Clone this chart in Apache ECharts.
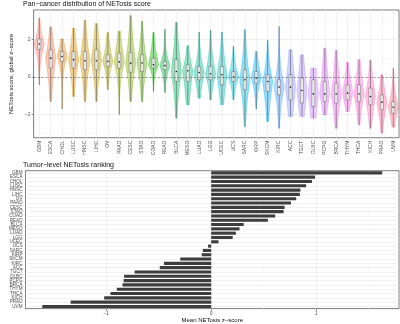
<!DOCTYPE html>
<html>
<head>
<meta charset="utf-8">
<script src="https://cdn.jsdelivr.net/npm/echarts@6/dist/echarts.min.js"></script>
<style>
  html, body { margin: 0; padding: 0; background: #fff; }
  #chart { width: 400px; height: 324px; }
</style>
</head>
<body>
<div id="chart"></div>
<script>
// cancer types, same order in both panels
const categories = ['GBM', 'ESCA', 'CHOL', 'LUSC', 'HNSC', 'LIHC', 'OV', 'PAAD', 'CESC', 'STAD',
  'COAD', 'READ', 'BLCA', 'MESO', 'LUAD', 'LGG', 'UCEC', 'UCS', 'SARC', 'KIRP', 'SKCM', 'KIRC',
  'ACC', 'TGCT', 'DLBC', 'PCPG', 'BRCA', 'THYM', 'THCA', 'KICH', 'PRAD', 'UVM']

// violin / box summaries (global z-score)
const scoreMin = [-0.42, -1.31, -1.71, -1.04, -1.31, -1.31, -0.68, -2.0, -1.31, -1.31,
  -0.77, -0.83, -2.19, -1.48, -1.13, -1.22, -1.48, -1.22, -2.64, -1.71, -2.37, -2.73,
  -2.1, -2.1, -2.19, -2.02, -2.73, -1.84, -2.55, -2.73, -2.99, -2.67]
const scoreQ1 = [1.47, 0.47, 0.83, 0.47, 0.38, 0.38, 0.56, 0.47, 0.25, 0.29,
  0.47, 0.38, -0.24, -0.24, -0.15, -0.15, -0.42, -0.24, -0.68, -0.33, -0.77, -0.95,
  -1.22, -1.39, -1.57, -1.31, -1.39, -1.22, -1.31, -1.48, -1.75, -1.93]
const scoreMedian = [1.75, 1.0, 1.09, 0.92, 0.86, 0.86, 0.83, 0.8, 0.72, 0.74,
  0.65, 0.6, 0.29, 0.33, 0.24, 0.17, 0.12, 0.0, -0.15, -0.06, -0.24, -0.54,
  -0.54, -0.72, -0.9, -0.9, -0.91, -0.86, -0.91, -1.04, -1.34, -1.61]
const scoreQ3 = [2.02, 1.45, 1.36, 1.36, 1.36, 1.45, 1.18, 1.27, 1.3, 1.18,
  1.0, 0.83, 0.92, 0.65, 0.56, 0.56, 0.56, 0.29, 0.38, 0.29, 0.12, -0.15,
  0.12, -0.06, -0.15, -0.24, -0.33, -0.42, -0.42, -0.59, -0.95, -1.31]
const scoreMax = [3.14, 2.66, 2.02, 2.6, 3.01, 2.84, 2.37, 2.43, 3.26, 2.96,
  2.37, 2.55, 2.9, 1.66, 2.39, 2.48, 2.39, 1.63, 2.52, 1.36, 1.95, 2.69,
  1.45, 1.18, 0.47, 1.54, 1.41, 0.77, 0.92, 0.88, 0.12, 0.47]

// mean score per tumor (bottom panel)
const meanScore = [1.63, 0.99, 0.96, 0.905, 0.85, 0.845, 0.81, 0.76, 0.70, 0.69,
  0.61, 0.54, 0.31, 0.27, 0.235, 0.205, 0.07, -0.03, -0.08, -0.09, -0.295, -0.45,
  -0.49, -0.73, -0.83, -0.835, -0.845, -0.90, -0.96, -1.02, -1.34, -1.61]

const violinTicks = [-2, 0, 2]
const violinGrid = [-3, -2, -1, 0, 1, 2, 3]
const rankTicks = [-1, 0, 1]
const rankGrid = [-1.5, -1, -0.5, 0, 0.5, 1, 1.5]

const FONT = 'Liberation Sans'

// ggplot-like hue palette (hcl, c = 100, l = 65)
function hcl (h, c, l) {
  const Xn = 95.047, Yn = 100, Zn = 108.883
  const hr = h * Math.PI / 180
  const U = c * Math.cos(hr), V = c * Math.sin(hr)
  const Y = l > 8 ? Yn * Math.pow((l + 16) / 116, 3) : Yn * l / 903.3
  const d = Xn + 15 * Yn + 3 * Zn
  const u = U / (13 * l) + 4 * Xn / d
  const v = V / (13 * l) + 9 * Yn / d
  const X = 9 * Y * u / (4 * v)
  const Z = -X / 3 - 5 * Y + 3 * Y / v
  const lin = [
    (3.240479 * X - 1.537150 * Y - 0.498535 * Z) / 100,
    (-0.969256 * X + 1.875992 * Y + 0.041556 * Z) / 100,
    (0.055648 * X - 0.204043 * Y + 1.057311 * Z) / 100
  ]
  return lin.map(x => {
    const g = x <= 0.0031308 ? 12.92 * x : 1.055 * Math.pow(x, 1 / 2.4) - 0.055
    return Math.round(Math.min(1, Math.max(0, g)) * 255)
  })
}
const palette = categories.map((c, i) => hcl(15 + i * 360 / categories.length, 100, 65))

const minus = v => String(v).replace('-', '\u2212')

function renderViolin (params, api) {
  const idx = api.value(0)
  const lo = api.value(1)
  const q1 = api.value(2)
  const med = api.value(3)
  const q3 = api.value(4)
  const hi = api.value(5)
  const band = api.size([1, 0])[0]
  const half = band * 0.44
  const sLo = Math.max((med - q1) / 0.6745, 0.15)
  const sHi = Math.max((q3 - med) / 0.6745, 0.15)
  const left = []
  const right = []
  const steps = 48
  for (let k = 0; k <= steps; k++) {
    const v = lo + (hi - lo) * k / steps
    const z = (v - med) / (v < med ? sLo : sHi)
    const w = Math.exp(-0.5 * Math.pow(Math.abs(z), 1.2))
    const p = api.coord([idx, v])
    left.push([p[0] - w * half, p[1]])
    right.unshift([p[0] + w * half, p[1]])
  }
  const rgb = palette[idx]
  const pLo = api.coord([idx, lo])
  const pHi = api.coord([idx, hi])
  const pQ1 = api.coord([idx, q1])
  const pQ3 = api.coord([idx, q3])
  const pMed = api.coord([idx, med])
  const bw = band * 0.14
  return {
    type: 'group',
    children: [
      {
        type: 'polygon',
        shape: { points: left.concat(right) },
        style: {
          fill: 'rgba(' + rgb.join(',') + ',0.4)',
          stroke: 'rgba(' + rgb.join(',') + ',0.7)',
          lineWidth: 0.5
        }
      },
      {
        type: 'line',
        shape: { x1: pLo[0], y1: pLo[1], x2: pHi[0], y2: pHi[1] },
        style: { stroke: '#444', lineWidth: 0.5 }
      },
      {
        type: 'rect',
        shape: { x: pQ3[0] - bw, y: pQ3[1], width: bw * 2, height: pQ1[1] - pQ3[1] },
        style: { fill: 'rgba(242,242,242,0.85)', stroke: '#444', lineWidth: 0.4 }
      },
      {
        type: 'circle',
        shape: { cx: pMed[0], cy: pMed[1], r: 0.8 },
        style: { fill: '#111' }
      }
    ]
  }
}

const chart = echarts.init(document.getElementById('chart'))

const tickStyle = { color: '#333', width: 0.6 }
const gridLine = { color: '#ebebeb', width: 0.7 }

chart.setOption({
  animation: false,
  textStyle: { fontFamily: FONT },
  title: [
    {
      text: 'Pan\u2212cancer distribution of NETosis score',
      left: 23,
      top: 1,
      padding: 0,
      textStyle: { fontSize: 7, fontWeight: 'normal', color: '#111', fontFamily: FONT }
    },
    {
      text: 'Tumor\u2212level NETosis ranking',
      left: 23,
      top: 161.5,
      padding: 0,
      textStyle: { fontSize: 7, fontWeight: 'normal', color: '#111', fontFamily: FONT }
    }
  ],
  grid: [
    { left: 26, right: 1, top: 10, height: 127.7, show: true, borderColor: '#444', borderWidth: 0.7, backgroundColor: 'transparent' },
    { left: 25.5, right: 1, top: 170.7, height: 139.9, show: true, borderColor: '#444', borderWidth: 0.7, backgroundColor: 'transparent' }
  ],
  xAxis: [
    {
      gridIndex: 0,
      type: 'category',
      data: categories,
      axisLine: { show: false },
      axisTick: { alignWithLabel: true, length: 2, lineStyle: tickStyle },
      axisLabel: { rotate: 90, fontSize: 5, color: '#4d4d4d', margin: 3, interval: 0, fontFamily: FONT },
      splitLine: { show: true, alignWithLabel: true, lineStyle: gridLine }
    },
    {
      gridIndex: 1,
      type: 'value',
      min: -1.77,
      max: 1.79,
      axisLine: { show: false },
      axisTick: { show: true, length: 2, customValues: rankTicks, lineStyle: tickStyle },
      axisLabel: { customValues: rankTicks, fontSize: 5, color: '#4d4d4d', margin: 2.5, formatter: minus, fontFamily: FONT },
      splitLine: { show: false },
      name: 'Mean NETosis z\u2212score',
      nameLocation: 'middle',
      nameGap: 7,
      nameTextStyle: { fontSize: 6, color: '#111', fontFamily: FONT }
    }
  ],
  yAxis: [
    {
      gridIndex: 0,
      type: 'value',
      min: -3.23,
      max: 3.56,
      axisLine: { show: false },
      axisTick: { show: true, length: 2, customValues: violinTicks, lineStyle: tickStyle },
      axisLabel: { customValues: violinTicks, fontSize: 5, color: '#4d4d4d', margin: 3, formatter: minus, fontFamily: FONT },
      splitLine: { show: false },
      name: 'NETosis score, global z\u2212score',
      nameLocation: 'middle',
      nameGap: 16,
      nameTextStyle: { fontSize: 6, color: '#111', fontFamily: FONT }
    },
    {
      gridIndex: 1,
      type: 'category',
      data: categories,
      inverse: true,
      axisLine: { show: false },
      axisTick: { alignWithLabel: true, length: 2, lineStyle: tickStyle },
      axisLabel: { fontSize: 4.6, color: '#4d4d4d', margin: 3, interval: 0, fontFamily: FONT },
      splitLine: { show: true, alignWithLabel: true, lineStyle: gridLine }
    }
  ],
  series: [
    {
      type: 'custom',
      xAxisIndex: 0,
      yAxisIndex: 0,
      renderItem: renderViolin,
      encode: { x: 0, y: [1, 2, 3, 4, 5] },
      data: categories.map((c, i) => [i, scoreMin[i], scoreQ1[i], scoreMedian[i], scoreQ3[i], scoreMax[i]]),
      markLine: {
        silent: true,
        z: 1,
        symbol: 'none',
        label: { show: false },
        data: violinGrid.map(v => ({
          yAxis: v,
          lineStyle: { type: 'solid', color: v % 2 === 0 ? '#ebebeb' : '#f3f3f3', width: v % 2 === 0 ? 0.7 : 0.5 }
        }))
      }
    },
    {
      type: 'line',
      xAxisIndex: 0,
      yAxisIndex: 0,
      data: [],
      markLine: {
        silent: true,
        z: 10,
        symbol: 'none',
        label: { show: false },
        lineStyle: { type: [2, 2], color: '#555', width: 0.6 },
        data: [{ yAxis: 0 }]
      }
    },
    {
      type: 'bar',
      xAxisIndex: 1,
      yAxisIndex: 1,
      data: meanScore,
      barWidth: '72%',
      itemStyle: { color: '#3d3d3d' },
      markLine: {
        silent: true,
        z: 1,
        symbol: 'none',
        label: { show: false },
        data: rankGrid.map(v => ({
          xAxis: v,
          lineStyle: { type: 'solid', color: Number.isInteger(v) ? '#ebebeb' : '#f3f3f3', width: Number.isInteger(v) ? 0.7 : 0.5 }
        }))
      }
    }
  ]
})
</script>
</body>
</html>
